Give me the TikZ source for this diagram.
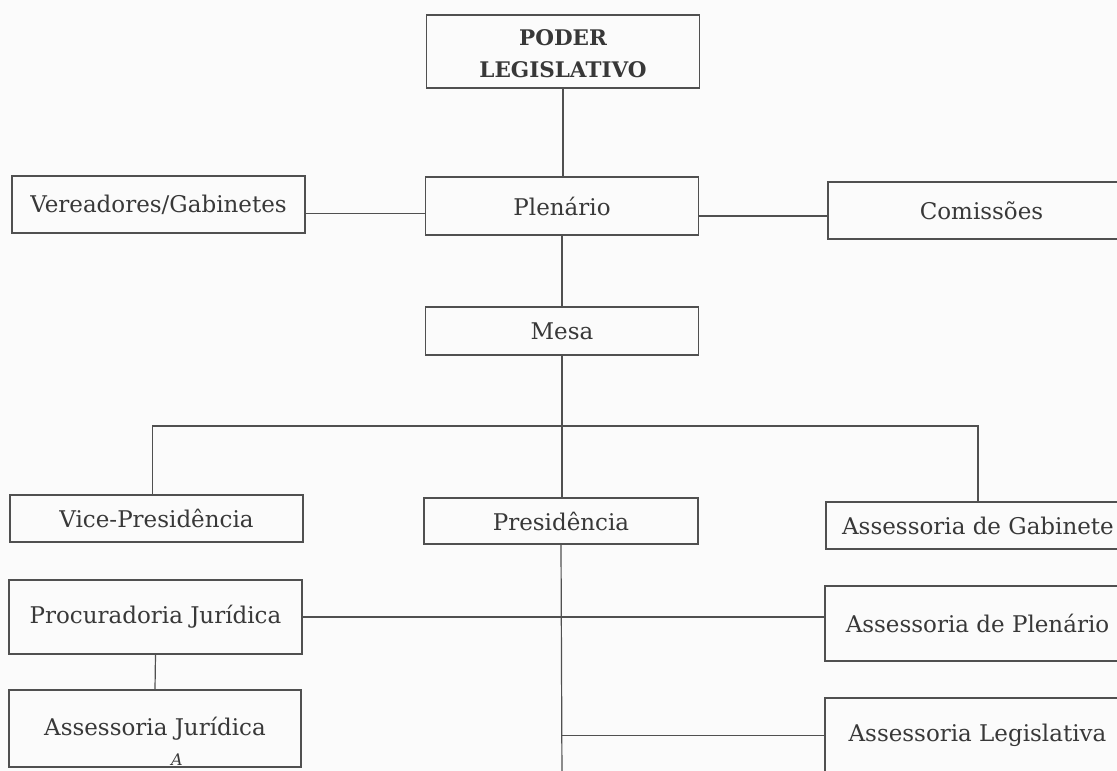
\documentclass[tikz,border=0pt]{standalone}
\usepackage{fontspec}
\setmainfont{DejaVu Serif}
\usetikzlibrary{calc}
\definecolor{ink}{HTML}{383838}
\definecolor{rule}{HTML}{505050}
\definecolor{paper}{HTML}{FBFBFB}
\tikzset{
  box/.style={draw=rule, line width=1.2pt, inner sep=0pt, text=ink,
    font=\fontsize{23}{27}\selectfont, align=center},
  conn/.style={draw=rule, line width=1.2pt},
}
\begin{document}
\begin{tikzpicture}[x=1pt,y=-1pt]
\useasboundingbox (0,0) rectangle (1117,771);
\fill[paper] (0,0) rectangle (1117,771);
\clip (0,0) rectangle (1117,771);
% boxes
\node[box, minimum width=273pt, minimum height=73pt] (poder) at (563,51.5) {};
\node[text=ink, align=center, inner sep=0pt, font=\bfseries\fontsize{21.5}{32}\selectfont] (podert) at (563,54) {PODER\\LEGISLATIVO};
\node[box, minimum width=273pt, minimum height=58pt] (plen) at (562,206) {Plenário};
\node[box, minimum width=293pt, minimum height=57pt] (ver) at (158.5,204.5) {Vereadores/Gabinetes};
\node[box, minimum width=307pt, minimum height=57pt] (com) at (981.5,210.5) {Comissões};
\node[box, minimum width=273pt, minimum height=48pt] (mesa) at (562,331) {Mesa};
\node[box, minimum width=293pt, minimum height=47pt] (vice) at (156.5,518.5) {Vice-Presidência};
\node[box, minimum width=274pt, minimum height=46pt] (pres) at (561,521) {Presidência};
\node[box, minimum width=304pt, minimum height=47pt] (gab) at (978,525.5) {Assessoria de Gabinete};
\node[box, minimum width=293pt, minimum height=74pt] (proc) at (155.5,617) {Procuradoria Jurídica};
\node[box, minimum width=305pt, minimum height=75pt] (aplen) at (977.5,623.5) {Assessoria de Plenário};
\node[box, minimum width=292pt, minimum height=77pt] (ajur) at (155,728.5) {Assessoria Jurídica};
\node[box, minimum width=305pt, minimum height=75pt] (aleg) at (977.5,735.5) {Assessoria Legislativa};
% handwritten mark
\node[text=ink, font=\itshape\fontsize{16}{16}\selectfont, inner sep=0pt] (mark) at (177,760) {A};
% connectors
\coordinate (bar) at (562,426);
\coordinate (bot) at (562,780);
\draw[conn] (poder.south) -- (poder.south |- plen.north);
\draw[conn] ([yshift=-9pt]ver.east) -- ([yshift=-9pt]ver.east -| plen.west);
\draw[conn] ([yshift=-10pt]plen.east) -- ([yshift=-10pt]plen.east -| com.west);
\draw[conn] (plen.south) -- (mesa.north);
\draw[conn] (mesa.south) -- (mesa.south |- pres.north);
\draw[conn] ([xshift=-4pt]vice.north) |- (bar) -| (gab.north);
\draw[conn] (pres.south) -- (bot);
\draw[conn] (proc.east) -- (proc.east -| aplen.west);
\draw[conn] (proc.south) -- (ajur.north);
\draw[conn] (pres.south |- aleg.west) -- (aleg.west);
\end{tikzpicture}
\end{document}
